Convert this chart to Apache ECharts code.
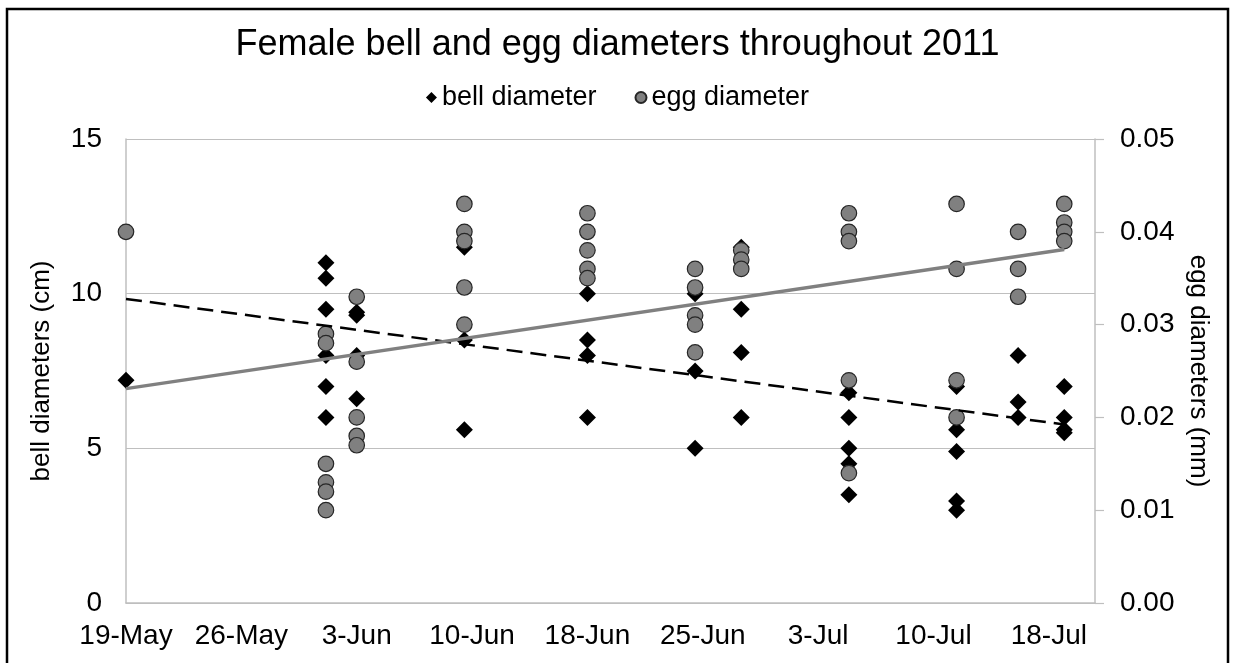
<!DOCTYPE html>
<html>
<head>
<meta charset="utf-8">
<title>Female bell and egg diameters throughout 2011</title>
<script src="https://cdn.jsdelivr.net/npm/echarts@6/dist/echarts.min.js"></script>
<style>
  html, body { margin: 0; padding: 0; background: #fff; }
  #chart { width: 1235px; height: 663px; }
</style>
</head>
<body>
<div id="chart"></div>
<script>
// Sampling dates (2011) and the measurements taken on each date
const sampleDates = [
  '2011-05-19', '2011-06-01', '2011-06-03', '2011-06-10', '2011-06-18', '2011-06-25',
  '2011-06-28', '2011-07-05', '2011-07-12', '2011-07-16', '2011-07-19'
];

// Bell diameter (cm), one list per sampling date
const bellDiameters = [
  [7.2],
  [11.0, 10.5, 9.5, 8.0, 7.0, 6.0],
  [9.4, 9.3, 8.0, 6.6],
  [11.5, 8.5, 5.6],
  [10.0, 8.5, 8.0, 6.0],
  [10.0, 7.5, 5.0],
  [11.5, 9.5, 8.1, 6.0],
  [6.8, 6.0, 5.0, 4.5, 3.5],
  [7.0, 5.6, 4.9, 3.3, 3.0],
  [8.0, 6.5, 6.0],
  [7.0, 6.0, 5.6, 5.5]
];

// Egg diameter (mm), one list per sampling date
const eggDiameters = [
  [0.040],
  [0.029, 0.028, 0.015, 0.013, 0.012, 0.010],
  [0.033, 0.026, 0.020, 0.018, 0.017],
  [0.043, 0.040, 0.039, 0.034, 0.030],
  [0.042, 0.040, 0.038, 0.036, 0.035],
  [0.036, 0.034, 0.031, 0.030, 0.027],
  [0.038, 0.037, 0.036],
  [0.042, 0.040, 0.039, 0.024, 0.014],
  [0.043, 0.036, 0.024, 0.020],
  [0.040, 0.036, 0.033],
  [0.043, 0.041, 0.040, 0.039]
];

// Linear trend values at the first and last sampling dates
const bellTrend = [9.83, 5.77];
const eggTrend = [0.0231, 0.0381];

// Date axis: start, end and step (days)
const axisStart = '2011-05-19';
const axisEnd = '2011-07-21';
const tickStepDays = 7.5;
const monthNames = ['Jan', 'Feb', 'Mar', 'Apr', 'May', 'Jun', 'Jul', 'Aug', 'Sep', 'Oct', 'Nov', 'Dec'];

const DAY = 86400000;
const t0 = Date.parse(axisStart + 'T00:00:00Z');
const dayOf = d => (Date.parse(d + 'T00:00:00Z') - t0) / DAY;
const dayLabel = v => {
  const d = new Date(t0 + Math.floor(v + 1e-6) * DAY);
  return d.getUTCDate() + '-' + monthNames[d.getUTCMonth()];
};

const bellPoints = [];
const eggPoints = [];
sampleDates.forEach((d, i) => {
  const x = dayOf(d);
  bellDiameters[i].forEach(v => bellPoints.push([x, v]));
  eggDiameters[i].forEach(v => eggPoints.push([x, v]));
});
const firstDay = dayOf(sampleDates[0]);
const lastDay = dayOf(sampleDates[sampleDates.length - 1]);

const FONT = '"Liberation Sans", Arial, sans-serif';
const AXIS_GREY = '#bfbfbf';
const LABEL_SIZE = 28;

const chart = echarts.init(document.getElementById('chart'), null, { renderer: 'canvas' });
chart.setOption({
  backgroundColor: '#fff',
  animation: false,
  textStyle: { fontFamily: FONT, color: '#000' },
  title: {
    text: 'Female bell and egg diameters throughout 2011',
    left: 'center',
    top: 27,
    padding: 0,
    textStyle: { fontFamily: FONT, fontSize: 36, fontWeight: 'normal', color: '#000' }
  },
  legend: {
    data: [
      { name: 'bell diameter', icon: 'diamond' },
      { name: 'egg diameter', icon: 'circle' }
    ],
    left: 'center',
    top: 84,
    padding: 0,
    itemWidth: 11,
    itemHeight: 11,
    itemGap: 38,
    textStyle: { fontFamily: FONT, fontSize: 27, color: '#000' }
  },
  grid: { left: 126, right: 140, top: 139, bottom: 60, containLabel: false },
  xAxis: {
    type: 'value',
    min: 0,
    max: dayOf(axisEnd),
    interval: tickStepDays,
    axisLine: { show: true, onZero: false, lineStyle: { color: AXIS_GREY, width: 1.5 } },
    axisTick: { show: false },
    splitLine: { show: false },
    axisLabel: {
      formatter: dayLabel,
      showMaxLabel: false,
      margin: 19,
      fontFamily: FONT,
      fontSize: LABEL_SIZE,
      color: '#000'
    }
  },
  yAxis: [
    {
      type: 'value',
      position: 'left',
      min: 0,
      max: 15,
      interval: 5,
      name: 'bell diameters (cm)',
      nameLocation: 'middle',
      nameGap: 71,
      nameRotate: 90,
      nameTextStyle: { fontFamily: FONT, fontSize: 26, color: '#000' },
      axisLine: { show: true, lineStyle: { color: AXIS_GREY, width: 1.5 } },
      axisTick: { show: false },
      splitLine: { show: true, lineStyle: { color: AXIS_GREY, width: 1.2 } },
      axisLabel: { margin: 24, fontFamily: FONT, fontSize: LABEL_SIZE, color: '#000' }
    },
    {
      type: 'value',
      position: 'right',
      min: 0,
      max: 0.05,
      interval: 0.01,
      name: 'egg diameters (mm)',
      nameLocation: 'middle',
      nameGap: 88,
      nameRotate: -90,
      nameTextStyle: { fontFamily: FONT, fontSize: 26, color: '#000' },
      axisLine: { show: true, lineStyle: { color: AXIS_GREY, width: 1.5 } },
      axisTick: { show: true, inside: false, length: 9, lineStyle: { color: AXIS_GREY, width: 1.2 } },
      splitLine: { show: false },
      axisLabel: {
        margin: 25,
        formatter: v => v.toFixed(2),
        fontFamily: FONT,
        fontSize: LABEL_SIZE,
        color: '#000'
      }
    }
  ],
  series: [
    {
      name: 'bell diameter',
      type: 'scatter',
      yAxisIndex: 0,
      symbol: 'diamond',
      symbolSize: 17,
      itemStyle: { color: '#000', borderWidth: 0, opacity: 1 },
      data: bellPoints,
      z: 2
    },
    {
      name: 'egg diameter',
      type: 'scatter',
      yAxisIndex: 1,
      symbol: 'circle',
      symbolSize: 15.5,
      itemStyle: { color: '#808080', borderColor: '#262626', borderWidth: 1.2, opacity: 1 },
      data: eggPoints,
      z: 3
    },
    {
      name: 'bell trend',
      type: 'line',
      yAxisIndex: 0,
      symbol: 'none',
      silent: true,
      data: [[firstDay, bellTrend[0]], [lastDay, bellTrend[1]]],
      lineStyle: { color: '#000', width: 2.5, type: [16, 8] },
      z: 4
    },
    {
      name: 'egg trend',
      type: 'line',
      yAxisIndex: 1,
      symbol: 'none',
      silent: true,
      data: [[firstDay, eggTrend[0]], [lastDay, eggTrend[1]]],
      lineStyle: { color: '#808080', width: 3.5, type: 'solid' },
      z: 4
    }
  ],
  graphic: [
    {
      type: 'rect',
      shape: { x: 7, y: 9, width: 1221, height: 670 },
      style: { fill: 'none', stroke: '#000', lineWidth: 2.5 },
      silent: true,
      z: 100
    }
  ]
});
</script>
</body>
</html>
